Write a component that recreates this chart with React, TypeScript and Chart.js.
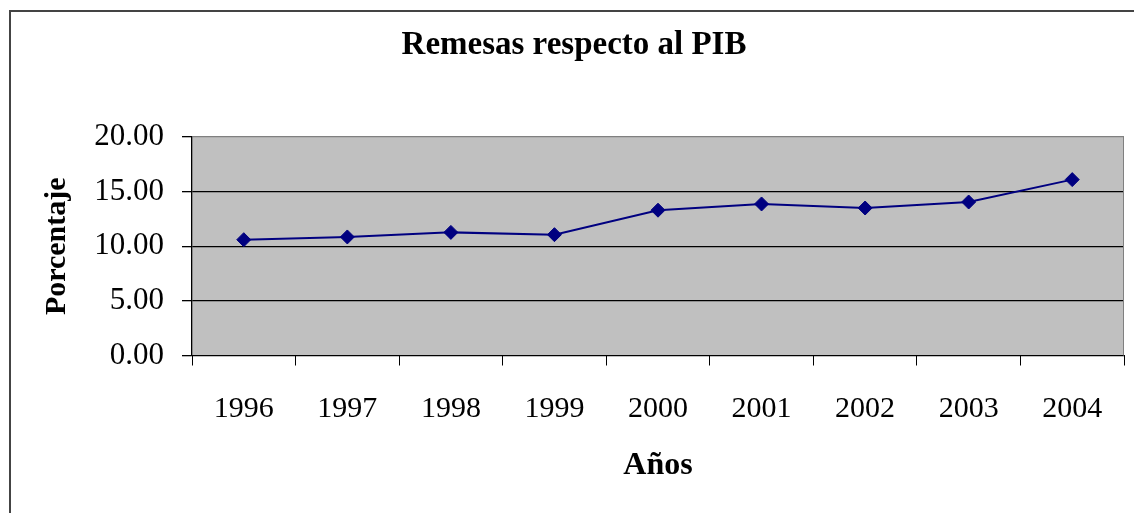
import { useEffect, useRef } from "react";
import { Chart, registerables } from "chart.js";

Chart.register(...registerables);

const years = ["1996", "1997", "1998", "1999", "2000", "2001", "2002", "2003", "2004"];
const remesas = [10.6, 10.85, 11.27, 11.06, 13.3, 13.87, 13.5, 14.05, 16.1];
const yTicks = [0, 5, 10, 15, 20];
const chartTitle = "Remesas respecto al PIB";
const yTitle = "Porcentaje";
const xTitle = "Años";

const W = 1134;
const H = 513;
const FONT = "'Liberation Serif', 'Times New Roman', serif";

const framePlugin = {
  id: "frame",
  beforeDraw(chart: any) {
    const { ctx, chartArea: a } = chart;
    ctx.save();
    ctx.fillStyle = "#ffffff";
    ctx.fillRect(0, 0, W, H);
    ctx.fillStyle = "#C0C0C0";
    ctx.fillRect(a.left, a.top, a.right - a.left, a.bottom - a.top);
    ctx.strokeStyle = "#444444";
    ctx.lineWidth = 2;
    ctx.beginPath();
    ctx.moveTo(10, H);
    ctx.lineTo(10, 11);
    ctx.lineTo(W, 11);
    ctx.stroke();
    ctx.restore();
  },
  afterDatasetsDraw(chart: any) {
    const { ctx, chartArea: a } = chart;
    ctx.save();
    ctx.strokeStyle = "#808080";
    ctx.lineWidth = 1;
    ctx.beginPath();
    ctx.moveTo(a.right - 0.5, a.top);
    ctx.lineTo(a.right - 0.5, a.bottom);
    ctx.stroke();
    ctx.restore();
  },
};

export default function App() {
  const ref = useRef<HTMLCanvasElement>(null);
  useEffect(() => {
    if (!ref.current) return;
    const chart = new Chart(ref.current, {
      type: "line",
      data: {
        labels: years,
        datasets: [
          {
            data: remesas,
            borderColor: "#000080",
            backgroundColor: "#000080",
            borderWidth: 2,
            pointStyle: "rectRot",
            pointRadius: 7,
            pointBorderWidth: 1,
            pointBackgroundColor: "#000080",
            pointBorderColor: "#000080",
            tension: 0,
            fill: false,
          },
        ],
      },
      options: {
        responsive: false,
        animation: false,
        layout: { padding: { left: 24, right: 10, top: 0, bottom: 0 } },
        plugins: {
          legend: { display: false },
          tooltip: { enabled: false },
          title: {
            display: true,
            text: chartTitle,
            color: "#000",
            font: { family: FONT, size: 33, weight: "bold" },
            padding: { top: 25.8, bottom: 71.6 },
          },
        },
        scales: {
          x: {
            type: "category",
            offset: true,
            afterFit: (s: any) => {
              s.height = 157.5;
            },
            grid: {
              offset: true,
              drawOnChartArea: false,
              tickLength: 10,
              color: "#000",
              lineWidth: 1,
            },
            border: { color: "#000", width: 1 },
            ticks: {
              color: "#000",
              font: { family: FONT, size: 30 },
              padding: 26,
              maxRotation: 0,
              autoSkip: false,
            },
            title: {
              display: true,
              text: xTitle,
              color: "#000",
              font: { family: FONT, size: 32, weight: "bold" },
              padding: { top: 0, bottom: 28 },
            },
          },
          y: {
            min: 0,
            max: 20,
            afterFit: (s: any) => {
              s.width = 168;
            },
            afterBuildTicks: (s: any) => {
              s.ticks = yTicks.map((v) => ({ value: v }));
            },
            grid: {
              color: (c: any) => (c.tick && c.tick.value === 20 ? "#808080" : "#000"),
              tickColor: "#000",
              tickLength: 10,
              lineWidth: 1.3,
            },
            border: { color: "#000", width: 1.3 },
            ticks: {
              color: "#000",
              font: { family: FONT, size: 31 },
              padding: 18,
              callback: (v: any) => Number(v).toFixed(2),
            },
            title: {
              display: true,
              text: yTitle,
              color: "#000",
              font: { family: FONT, size: 30, weight: "bold" },
              padding: { top: 15, bottom: 0 },
            },
          },
        },
      },
      plugins: [framePlugin],
    });
    return () => chart.destroy();
  }, []);
  return (
    <div style={{ position: "fixed", left: 0, top: 0, width: W, height: H, background: "#fff" }}>
      <canvas ref={ref} width={W} height={H} style={{ display: "block", width: W, height: H }} />
    </div>
  );
}
